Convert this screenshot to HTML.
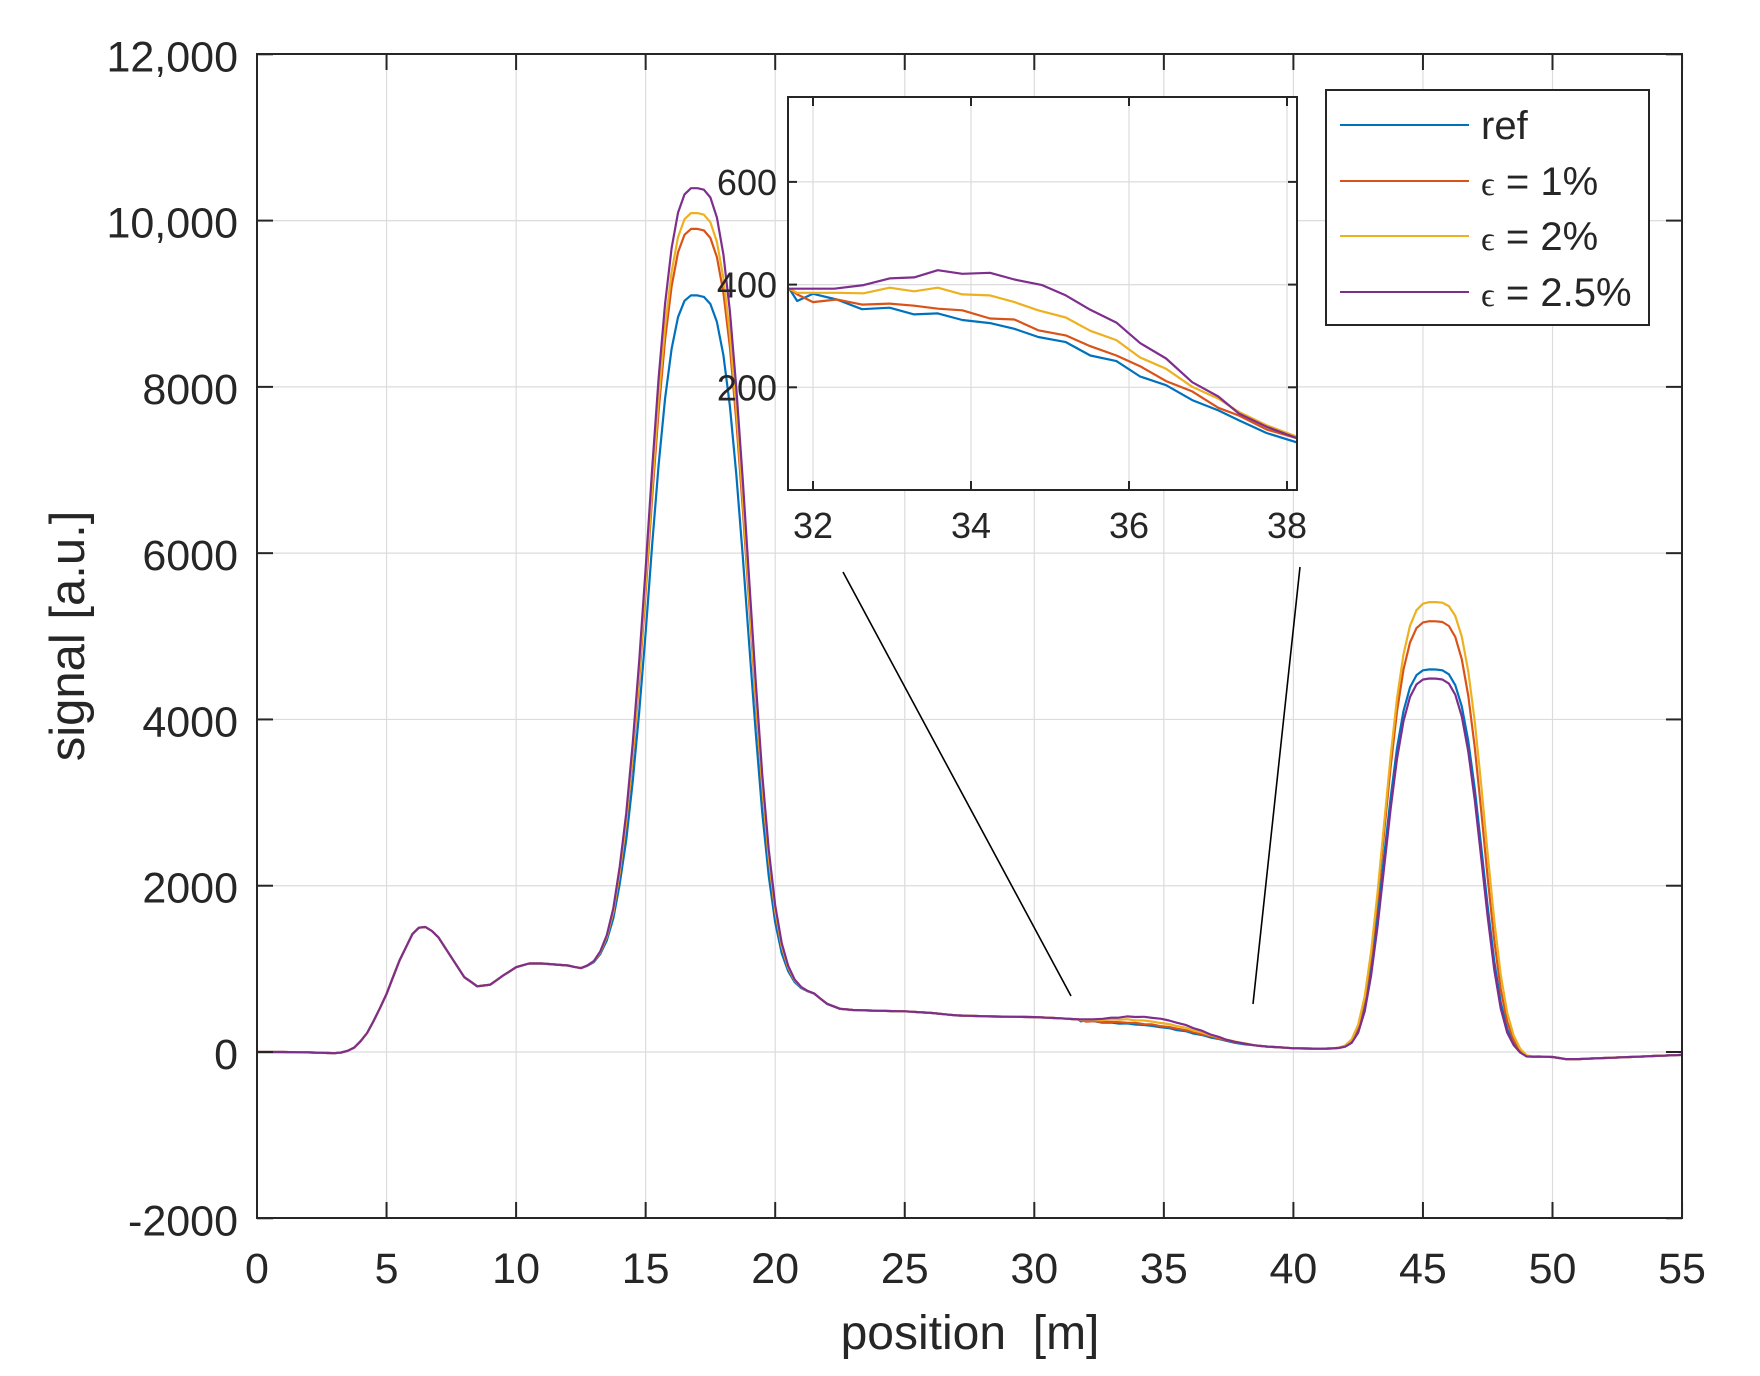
<!DOCTYPE html>
<html><head><meta charset="utf-8"><style>
html,body{margin:0;padding:0;background:#fff;}
svg{display:block;}
text{font-family:"Liberation Sans",Arial,sans-serif;fill:#262626;}
</style></head><body>
<svg id="s" width="1760" height="1376" xmlns="http://www.w3.org/2000/svg">
<defs>
<clipPath id="cm"><rect x="257" y="54" width="1425" height="1164"/></clipPath>
<clipPath id="ci"><rect x="788" y="97" width="509" height="393"/></clipPath>
</defs>
<g id="main"></g>
<text x="970" y="1349" font-size="48" text-anchor="middle" xml:space="preserve">position  [m]</text>
<text transform="translate(84,636) rotate(-90)" font-size="49" text-anchor="middle">signal [a.u.]</text>
<line x1="843" y1="572" x2="1071" y2="996" stroke="#000" stroke-width="1.6"/>
<line x1="1300" y1="567" x2="1253" y2="1004" stroke="#000" stroke-width="1.6"/>
<rect x="1326" y="90" width="323" height="235" fill="#fff" stroke="#262626" stroke-width="2"/>
<g font-size="40">
<line x1="1340" y1="125" x2="1469" y2="125" stroke="#0072BD" stroke-width="2"/>
<text x="1481" y="139">ref</text>
<line x1="1340" y1="181" x2="1469" y2="181" stroke="#D95319" stroke-width="2"/>
<text x="1481" y="195"><tspan font-family="Liberation Serif,serif" font-size="34">ϵ</tspan> = 1%</text>
<line x1="1340" y1="236" x2="1469" y2="236" stroke="#EDB120" stroke-width="2"/>
<text x="1481" y="250"><tspan font-family="Liberation Serif,serif" font-size="34">ϵ</tspan> = 2%</text>
<line x1="1340" y1="292" x2="1469" y2="292" stroke="#7E2F8E" stroke-width="2"/>
<text x="1481" y="306"><tspan font-family="Liberation Serif,serif" font-size="34">ϵ</tspan> = 2.5%</text>
</g>
</svg>
<script>
const NS="http://www.w3.org/2000/svg";
const G=document.getElementById('main');
function el(t,a,p){const e=document.createElementNS(NS,t);for(const k in a)e.setAttribute(k,a[k]);(p||G).appendChild(e);return e;}
function interp(T,x){if(x<=T[0][0])return T[0][1];for(let i=1;i<T.length;i++){if(x<=T[i][0]){const a=T[i-1],b=T[i];return a[1]+(b[1]-a[1])*(x-a[0])/(b[0]-a[0]);}}return T[T.length-1][1];}
const baseL=[[0,0],[1,0],[2,-5],[3,-15],[3.4,0],[3.8,60],[4.2,200],[4.6,430],[5,700],[5.5,1100],[6,1420],[6.3,1510],[6.6,1500],[7,1380],[7.5,1140],[8,900],[8.5,790],[9,810],[9.5,920],[10,1020],[10.5,1065],[11,1065],[12,1040],[12.5,1005],[13,1050],[13.5,1150],[14,1250],[14.4,1200],[15,950],[17,850],[19,800],[20.5,780],[21,740],[21.5,700],[22,580],[22.5,520],[23,505],[24,495],[25,490],[26,470],[27,440],[28,430],[29,425],[30,420],[31,405]];
const baseR=[[38.5,80],[39,65],[40,45],[41,40],[42,45],[48.5,0],[49,-60],[49.5,-55],[50,-60],[50.5,-85],[51,-85],[55,-35]];
const S=[
{c:'#0072BD',A:8250,w:2.25,A2:4580,c2:45.4,w2:2.12,mid:[[31.7,392],[31.8,368],[32,382],[32.3,371],[32.62,352],[32.97,355],[33.28,342],[33.58,344],[33.89,331],[34.24,325],[34.55,314],[34.85,298],[35.2,288],[35.51,262],[35.84,251],[36.14,221],[36.47,204],[36.8,175],[37.13,155],[37.39,136],[37.74,111],[38.14,92]]},
{c:'#D95319',A:9050,w:2.27,A2:5160,c2:45.42,w2:2.14,mid:[[31.7,392],[31.8,381],[32,366],[32.3,371],[32.62,361],[32.97,363],[33.28,359],[33.58,353],[33.89,350],[34.24,334],[34.55,332],[34.85,311],[35.2,301],[35.51,280],[35.84,262],[36.14,241],[36.47,212],[36.8,192],[37.13,160],[37.39,145],[37.74,118],[38.14,100]]},
{c:'#EDB120',A:9240,w:2.27,A2:5390,c2:45.45,w2:2.17,mid:[[31.7,392],[31.8,384],[32.3,384],[32.64,383],[32.97,394],[33.28,387],[33.58,394],[33.89,381],[34.24,379],[34.55,366],[34.85,350],[35.2,336],[35.51,310],[35.84,292],[36.14,258],[36.47,236],[36.8,201],[37.13,178],[37.39,152],[37.74,126],[38.14,103]]},
{c:'#7E2F8E',A:9540,w:2.28,A2:4470,c2:45.4,w2:2.09,mid:[[31.7,392],[31.8,392],[32.27,392],[32.64,399],[32.97,412],[33.28,414],[33.58,428],[33.89,421],[34.24,423],[34.55,410],[34.9,399],[35.2,379],[35.51,351],[35.84,326],[36.14,286],[36.47,256],[36.8,210],[37.13,182],[37.39,149],[37.74,123],[38.14,100]]}
];
function series(s){
  const T=baseL.concat(s.mid).concat(baseR);
  const xs=[];for(let x=0;x<31.7;x+=0.25)xs.push(x);
  s.mid.forEach(p=>xs.push(p[0]));
  for(let x=38.25;x<=55.001;x+=0.25)xs.push(x);
  return xs.map(x=>[x,interp(T,x)+s.A*Math.exp(-Math.pow(Math.abs(x-17)/s.w,3))+s.A2*Math.exp(-Math.pow(Math.abs(x-s.c2)/s.w2,3.5))]);
}
const X=x=>257+x*25.91, Y=v=>1052-v*0.08314;
const grid='#dcdcdc';
for(let x=5;x<55;x+=5)el('line',{x1:X(x),y1:54,x2:X(x),y2:1218,stroke:grid,'stroke-width':1.2});
for(let v=0;v<12000;v+=2000)el('line',{x1:257,y1:Y(v),x2:1682,y2:Y(v),stroke:grid,'stroke-width':1.2});
const mg=el('g',{'clip-path':'url(#cm)'});
const data=S.map(series);
data.forEach((d,i)=>el('polyline',{points:d.map(p=>X(p[0]).toFixed(1)+','+Y(p[1]).toFixed(1)).join(' '),fill:'none',stroke:S[i].c,'stroke-width':2.2,'stroke-linejoin':'round'},mg));
el('rect',{x:257,y:54,width:1425,height:1164,fill:'none',stroke:'#262626','stroke-width':2});
for(let x=0;x<=55;x+=5){el('line',{x1:X(x),y1:1218,x2:X(x),y2:1202,stroke:'#262626','stroke-width':2});el('line',{x1:X(x),y1:54,x2:X(x),y2:70,stroke:'#262626','stroke-width':2});
 const t=el('text',{x:X(x),y:1283,'font-size':43,'text-anchor':'middle'});t.textContent=x;}
const yl={'-2000':'-2000','0':'0','2000':'2000','4000':'4000','6000':'6000','8000':'8000','10000':'10,000','12000':'12,000'};
for(let v=-2000;v<=12000;v+=2000){el('line',{x1:257,y1:Y(v),x2:273,y2:Y(v),stroke:'#262626','stroke-width':2});el('line',{x1:1682,y1:Y(v),x2:1666,y2:Y(v),stroke:'#262626','stroke-width':2});
 const t=el('text',{x:238,y:Y(v)+17,'font-size':43,'text-anchor':'end'});t.textContent=yl[v];}
// inset
const IX=x=>813+(x-32)*79, IY=v=>490-v*0.5135;
el('rect',{x:788,y:97,width:509,height:393,fill:'#fff',stroke:'none'});
for(let x=32;x<=38;x+=2)el('line',{x1:IX(x),y1:97,x2:IX(x),y2:490,stroke:grid,'stroke-width':1.2});
for(let v=200;v<=600;v+=200)el('line',{x1:788,y1:IY(v),x2:1297,y2:IY(v),stroke:grid,'stroke-width':1.2});
const ig=el('g',{'clip-path':'url(#ci)'});
data.forEach((d,i)=>el('polyline',{points:d.filter(p=>p[0]>30&&p[0]<40).map(p=>IX(p[0]).toFixed(1)+','+IY(p[1]).toFixed(1)).join(' '),fill:'none',stroke:S[i].c,'stroke-width':2.2,'stroke-linejoin':'round'},ig));
el('rect',{x:788,y:97,width:509,height:393,fill:'none',stroke:'#262626','stroke-width':2});
for(let x=32;x<=38;x+=2){el('line',{x1:IX(x),y1:490,x2:IX(x),y2:481,stroke:'#262626','stroke-width':2});el('line',{x1:IX(x),y1:97,x2:IX(x),y2:106,stroke:'#262626','stroke-width':2});
 const t=el('text',{x:IX(x),y:538,'font-size':36,'text-anchor':'middle'});t.textContent=x;}
for(let v=200;v<=600;v+=200){el('line',{x1:788,y1:IY(v),x2:797,y2:IY(v),stroke:'#262626','stroke-width':2});el('line',{x1:1297,y1:IY(v),x2:1288,y2:IY(v),stroke:'#262626','stroke-width':2});
 const t=el('text',{x:777,y:IY(v)+13,'font-size':36,'text-anchor':'end'});t.textContent=v;}
</script>
</body></html>
